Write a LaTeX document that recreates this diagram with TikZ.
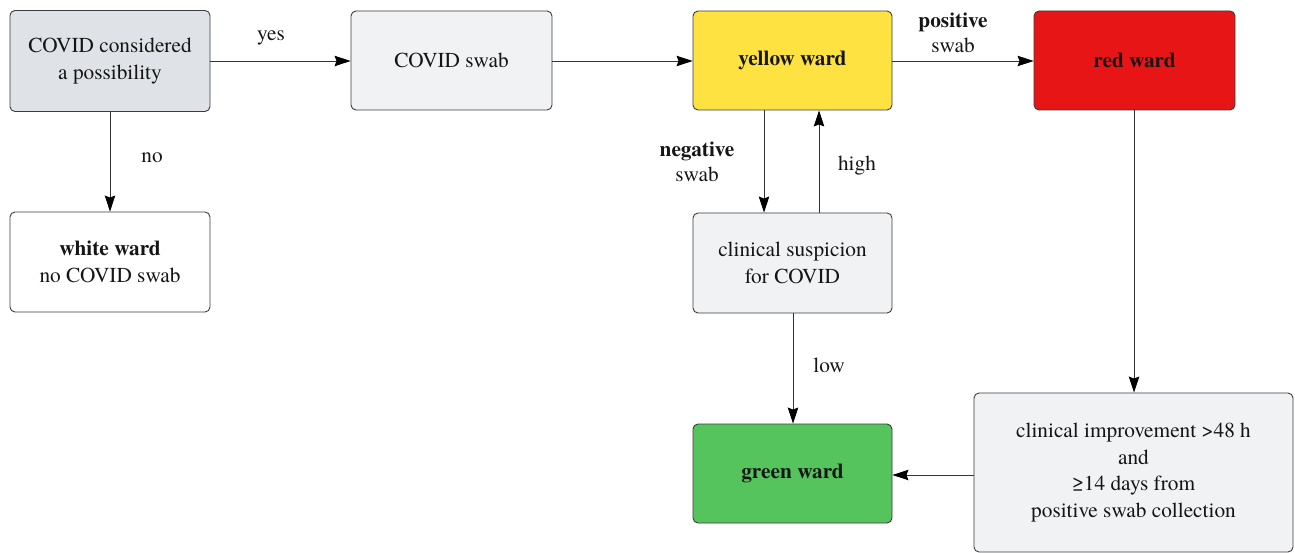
\documentclass[tikz,border=0pt]{standalone}
\usepackage{fontspec}
\setmainfont{texgyretermes}[Extension=.otf, UprightFont=*-regular, BoldFont=*-bold, ItalicFont=*-italic, BoldItalicFont=*-bolditalic]
\usetikzlibrary{arrows.meta}
\definecolor{boxline}{HTML}{3C3C3C}
\definecolor{linkline}{HTML}{333333}
\definecolor{txt}{HTML}{151515}
\definecolor{greyA}{HTML}{DFE2E6}
\definecolor{greyB}{HTML}{F1F2F4}
\definecolor{wardyellow}{HTML}{FEE242}
\definecolor{wardred}{HTML}{E71515}
\definecolor{wardgreen}{HTML}{55C45D}
\tikzset{
  box/.style={draw=boxline, line width=0.9pt, rounded corners=5pt, align=center,
    text=txt, inner sep=2pt, font=\fontsize{21.3}{26.5}\selectfont},
  lbl/.style={text=txt, align=center, inner sep=1pt, font=\fontsize{21.3}{24.5}\selectfont},
  flow/.style={draw=linkline, line width=0.9pt,
    -{Stealth[length=16pt,width=10.5pt,inset=2pt,color=black]}}
}
\begin{document}
\begin{tikzpicture}[x=1pt,y=-1pt]
\useasboundingbox (0,0) rectangle (1295,553);
% boxes
\node[box, fill=greyA, minimum width=200, minimum height=101] (poss) at (110,61) {COVID considered\\a possibility};
\node[box, fill=greyB, minimum width=201, minimum height=99] (swab) at (451.5,60.5) {COVID swab};
\node[box, fill=wardyellow, minimum width=199, minimum height=99] (yellow) at (792.5,60.5) {\textbf{yellow ward}};
\node[box, fill=wardred, minimum width=201, minimum height=99] (red) at (1134.5,60.5) {\textbf{red ward}};
\node[box, fill=white, minimum width=200, minimum height=100] (white) at (110,262) {\textbf{white ward}\\no COVID swab};
\node[box, fill=greyB, minimum width=199, minimum height=100] (susp) at (792.5,263) {clinical suspicion\\for COVID};
\node[box, fill=wardgreen, minimum width=199, minimum height=99] (green) at (792.5,473.5) {\textbf{green ward}};
\node[box, fill=greyB, minimum width=319, minimum height=159] (improve) at (1133.5,472.5) {clinical improvement >48 h\\and\\≥14 days from\\positive swab collection};
% edge labels
\node[lbl] (lyes) at (271,38) {yes};
\node[lbl] (lno) at (152,158) {no};
\node[lbl] (lpos) at (953,33) {\textbf{positive}\\swab};
\node[lbl] (lneg) at (697,162) {\textbf{negative}\\swab};
\node[lbl] (lhigh) at (857,166) {high};
\node[lbl] (llow) at (829,365) {low};
% connectors
\draw[flow] (poss.east |- 0,61) -- (swab.west |- 0,61);
\draw[flow] (swab.east |- 0,61) -- (yellow.west |- 0,61);
\draw[flow] (yellow.east |- 0,61) -- (red.west |- 0,61);
\draw[flow] (poss.south) -- (white.north);
\draw[flow] (yellow.south -| 764,0) -- (susp.north -| 764,0);
\draw[flow] (susp.north -| 819,0) -- (yellow.south -| 819,0);
\draw[flow] (susp.south -| 793,0) -- (green.north -| 793,0);
\draw[flow] (red.south -| 1134,0) -- (improve.north -| 1134,0);
\draw[flow] (improve.west |- 0,475) -- (green.east |- 0,475);
\end{tikzpicture}
\end{document}
